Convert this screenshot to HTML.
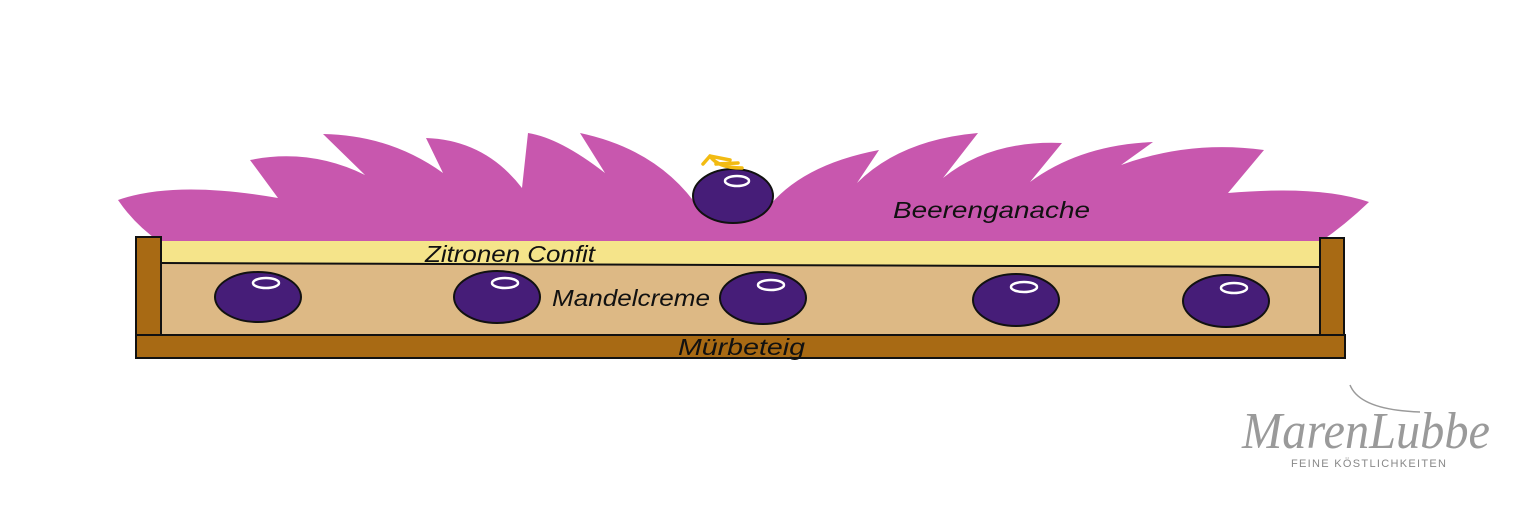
<!DOCTYPE html>
<html><head><meta charset="utf-8"><style>
html,body{margin:0;padding:0;background:#fff;}
svg{display:block;}
</style></head><body>
<svg width="1526" height="509" viewBox="0 0 1526 509" xmlns="http://www.w3.org/2000/svg">
<rect width="1526" height="509" fill="#fff"/>
<path fill="#c857ae" d="M118,200 Q175,180 278,198 L250,160 Q310,148 365,175 L323,134 Q390,135 443,173 L426,138 Q485,140 522,188 L528,133 Q560,138 605,173 L580,133 Q660,150 700,210 L766,210 Q800,165 879,150 L857,183 Q900,140 978,133 L943,178 Q990,140 1062,143 L1030,182 Q1080,145 1153,142 L1121,165 Q1190,140 1264,150 L1228,193 Q1320,185 1369,202 Q1345,225 1320,242 L160,242 Q135,225 118,200 Z"/>
<rect x="161" y="241" width="1160" height="25" fill="#f5e48a"/>
<polygon points="161,263 1321,267 1321,335 161,335" fill="#ddb985"/>
<line x1="161" y1="263" x2="1321" y2="267" stroke="#111" stroke-width="2"/>
<line x1="161" y1="335" x2="1321" y2="335" stroke="#111" stroke-width="2"/>
<rect x="136" y="237" width="25" height="100" fill="#a86a14" stroke="#111" stroke-width="2"/>
<rect x="1320" y="238" width="24" height="99" fill="#a86a14" stroke="#111" stroke-width="2"/>
<rect x="136" y="335" width="1209" height="23" fill="#a86a14" stroke="#111" stroke-width="2"/>
<g fill="#461d78" stroke="#111" stroke-width="2">
<ellipse cx="258" cy="297" rx="43" ry="25"/>
<ellipse cx="497" cy="297" rx="43" ry="26"/>
<ellipse cx="763" cy="298" rx="43" ry="26"/>
<ellipse cx="1016" cy="300" rx="43" ry="26"/>
<ellipse cx="1226" cy="301" rx="43" ry="26"/>
<ellipse cx="733" cy="196" rx="40" ry="27"/>
</g>
<g fill="none" stroke="#fff" stroke-width="2.5">
<ellipse cx="266" cy="283" rx="13" ry="5"/>
<ellipse cx="505" cy="283" rx="13" ry="5"/>
<ellipse cx="771" cy="285" rx="13" ry="5"/>
<ellipse cx="1024" cy="287" rx="13" ry="5"/>
<ellipse cx="1234" cy="288" rx="13" ry="5"/>
<ellipse cx="737" cy="181" rx="12" ry="5"/>
</g>
<path d="M730,160 L710,156 L703,164 M710,156 Q718,168 742,168 M716,164 L738,163" fill="none" stroke="#f2bb12" stroke-width="3.5" stroke-linecap="round"/>
<g font-family="Liberation Sans, sans-serif" font-style="italic" font-size="23" fill="#111" lengthAdjust="spacingAndGlyphs">
<text x="893" y="218" textLength="197" lengthAdjust="spacingAndGlyphs">Beerenganache</text>
<text x="425" y="262" textLength="170" lengthAdjust="spacingAndGlyphs">Zitronen Confit</text>
<text x="552" y="306" textLength="158" lengthAdjust="spacingAndGlyphs">Mandelcreme</text>
<text x="678" y="355" textLength="127" lengthAdjust="spacingAndGlyphs">Mürbeteig</text>
</g>
<text x="1242" y="448" font-family="Liberation Serif, serif" font-style="italic" font-size="52" fill="#9a9a9a" textLength="248" lengthAdjust="spacingAndGlyphs">MarenLubbe</text>
<path d="M1350,385 Q1360,410 1420,412" fill="none" stroke="#9a9a9a" stroke-width="1.5"/>
<text x="1291" y="467" font-family="Liberation Sans, sans-serif" font-size="11" letter-spacing="2" fill="#888" textLength="157">FEINE KÖSTLICHKEITEN</text>
</svg>
</body></html>
